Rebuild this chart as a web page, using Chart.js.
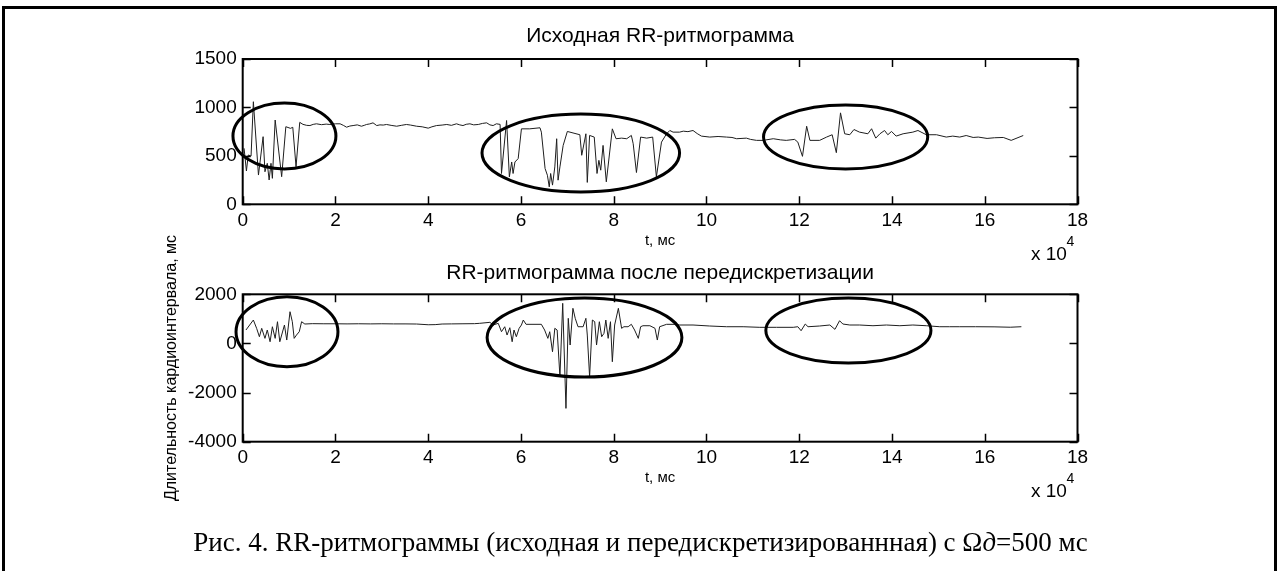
<!DOCTYPE html>
<html>
<head>
<meta charset="utf-8">
<script src="https://cdn.jsdelivr.net/npm/chart.js@4.4.1/dist/chart.umd.min.js"></script>
<style>
  html, body { margin: 0; padding: 0; background: #fff; }
  #page { position: relative; width: 1281px; height: 571px; overflow: hidden; background: #fff; }
  #frame { position: absolute; left: 2px; top: 6px; width: 1275px; height: 600px; border: 3px solid #000; box-sizing: border-box; }
  canvas { position: absolute; left: 0; }
  #rrTop { top: 0; }
  #rrBottom { top: 225px; }
  #caption { position: absolute; left: 0; width: 1281px; top: 529px; text-align: center; line-height: 27px;
             font-family: "Liberation Serif", "Times New Roman", serif; font-size: 27px; color: #000; white-space: nowrap; }
</style>
</head>
<body>
<div id="page">
  <div id="frame"></div>
  <canvas id="rrTop" width="1281" height="265"></canvas>
  <canvas id="rrBottom" width="1281" height="300"></canvas>
  <div id="caption">Рис. 4. RR-ритмограммы (исходная и передискретизированнная) с Ω<i>д</i>=500 мс</div>
</div>
<script>
// Source RR series: beat time (ms) and RR interval (ms)
const sourceTimes = [300,800,1200,1800,2300,3400,4400,4800,5300,5700,6100,6400,7000,8400,9300,10300,10800,11500,12300,13000,
  13800,14500,15200,15900,17000,18000,18800,20000,21000,21700,22400,23100,23800,24700,25600,26200,26700,27400,28100,28900,
  29600,30300,31000,32000,33200,34200,35300,36200,37500,38700,40000,40800,41800,43000,44000,45000,46100,46800,47500,48200,
  49000,49800,50800,51700,52600,53300,54000,54700,55500,55800,56900,57500,58000,58300,58700,59400,60100,61900,64100,64400,
  65200,65700,66100,66400,66800,67300,67700,68000,68400,69100,70000,72700,73100,74000,74300,74800,75800,76400,76800,77200,
  77700,78400,79700,80500,81700,82800,83800,84200,84900,85800,87100,88400,89200,90300,91400,92100,92800,94200,95000,96000,
  97100,98000,98900,100700,102500,104300,105500,106500,108600,109500,110800,112200,114400,116000,117200,119000,119700,120700,121600,122300,
  124400,125900,127100,128000,128900,129800,130900,131800,133000,134800,135600,136500,137400,138400,139100,139900,140900,142400,144500,145600,
  147400,149600,151700,153100,154600,156000,157500,158600,160500,162100,164000,165700,168300];
const sourceRR = [578,344,509,498,1059,302,698,336,423,251,423,268,870,285,801,784,795,388,846,825,
  815,813,825,831,822,828,824,831,831,815,796,808,813,820,806,815,824,830,841,813,
  820,818,824,815,806,815,824,818,806,800,786,800,813,818,824,815,831,820,813,826,
  831,820,824,835,841,820,813,831,825,318,865,283,437,318,437,472,779,779,790,745,
  369,300,180,318,198,386,677,249,386,608,752,718,506,728,226,711,694,318,454,352,
  608,232,779,677,683,677,711,625,328,694,683,694,283,642,728,762,745,745,755,750,
  762,730,704,694,700,694,690,677,683,670,660,660,677,665,660,670,642,495,806,660,
  660,694,718,533,944,728,718,772,745,728,780,683,728,762,718,752,704,728,745,762,
  718,718,694,704,694,710,690,694,680,687,690,660,710];

// Resampled RR series: sample time (ms) and value (ms)
const resampledTimes = [700,2300,3000,3600,4100,4800,5300,5900,6400,7000,7500,8000,9000,9500,10200,10700,11100,11600,12200,12700,
  13400,15000,17500,20000,22500,25000,27500,30000,32500,35000,37500,40000,41500,43000,45000,47500,50000,51100,53300,54000,
  55100,55800,56500,57000,57600,58100,58500,59000,59600,60100,60500,61100,64400,65100,65800,66200,66800,67300,67800,68400,
  69000,69700,70200,70600,71200,71700,72300,73400,74000,74300,74800,75400,75900,76300,76900,77400,77900,78300,78800,79300,
  79700,80200,81000,81700,82200,83100,83800,84500,85300,85800,86300,87800,88900,89400,89900,91400,93200,94200,97100,100700,
  104300,107900,111500,115100,118700,119700,120400,121300,121900,124400,126600,127700,128700,129400,130900,133000,135900,138800,141700,144500,
  147400,150300,152400,154600,158000,162000,165500,167900];
const resampledRR = [546,953,615,273,615,206,546,69,680,206,884,69,750,138,1291,884,206,342,477,884,
  790,805,800,800,795,800,795,800,795,795,790,760,765,790,795,800,805,819,859,750,
  819,477,680,342,640,69,546,273,615,750,953,778,778,546,206,477,-338,615,546,-1356,
  1633,-2644,1022,-65,1430,1022,680,680,1022,342,-1356,953,884,-65,884,273,411,953,206,884,
  -745,750,1430,615,680,680,778,546,206,680,721,721,615,138,680,778,778,750,750,709,
  680,680,656,656,656,680,517,790,680,709,750,574,925,790,750,750,721,750,721,750,
  721,680,680,680,680,675,660,680];

// Highlighted irregular segments: [t from, t to, value from, value to]
const sourceRegions = [[-2100, 20100, 365, 1045], [51600, 94200, 127, 931], [112300, 147700, 365, 1025]];
const resampledRegions = [[-1440, 20540, -949, 1903], [52700, 94700, -1369, 1849], [112800, 148400, -799, 1849]];

const sans = '"Liberation Sans", Arial, Helvetica, sans-serif';

// Box, inward ticks, highlight ellipses and the x-axis exponent
const axesBox = {
  id: 'axesBox',
  afterDatasetsDraw(chart, args, opts) {
    const { ctx, chartArea: a, scales: { x, y } } = chart;
    ctx.save();
    ctx.strokeStyle = '#000';
    ctx.lineWidth = 3;
    for (const r of opts.regions) {
      const x0 = x.getPixelForValue(r[0]), x1 = x.getPixelForValue(r[1]);
      const y0 = y.getPixelForValue(r[2]), y1 = y.getPixelForValue(r[3]);
      ctx.beginPath();
      ctx.ellipse((x0 + x1) / 2, (y0 + y1) / 2, Math.abs(x1 - x0) / 2, Math.abs(y1 - y0) / 2, 0, 0, Math.PI * 2);
      ctx.stroke();
    }
    ctx.lineWidth = 2;
    ctx.strokeRect(a.left, a.top, a.right - a.left, a.bottom - a.top);
    const tl = 8;
    ctx.lineWidth = 1.5;
    ctx.beginPath();
    for (const t of x.ticks) {
      const px = Math.round(x.getPixelForValue(t.value)) + 0.5;
      ctx.moveTo(px, a.bottom); ctx.lineTo(px, a.bottom - tl);
      ctx.moveTo(px, a.top); ctx.lineTo(px, a.top + tl);
    }
    for (const t of y.ticks) {
      const py = Math.round(y.getPixelForValue(t.value)) + 0.5;
      ctx.moveTo(a.left, py); ctx.lineTo(a.left + tl, py);
      ctx.moveTo(a.right, py); ctx.lineTo(a.right - tl, py);
    }
    ctx.stroke();
    ctx.fillStyle = '#000';
    ctx.textAlign = 'left';
    ctx.textBaseline = 'alphabetic';
    ctx.font = '19px ' + sans;
    ctx.fillText('x 10', a.right - 46.5, a.bottom + opts.expOffset);
    ctx.font = '14px ' + sans;
    ctx.fillText('4', a.right - 11, a.bottom + opts.expOffset - 14);
    ctx.restore();
  }
};

function rrChart(id, c) {
  return new Chart(document.getElementById(id), {
    type: 'line',
    data: {
      datasets: [{
        data: c.times.map((t, i) => ({ x: t, y: c.values[i] })),
        borderColor: '#1e1e1e', borderWidth: 1, pointRadius: 0, tension: 0, fill: false
      }]
    },
    options: {
      responsive: false, animation: false, events: [],
      layout: { padding: { left: 0, right: 203.5, top: 0, bottom: c.padBottom } },
      plugins: {
        legend: { display: false }, tooltip: { enabled: false },
        title: {
          display: true, text: c.title, fullSize: false, color: '#000',
          font: { family: sans, size: 21, weight: 'normal', lineHeight: 1 },
          padding: { top: c.titleTop, bottom: c.titleBottom }
        },
        axesBox: { regions: c.regions, expOffset: 55.3 }
      },
      scales: {
        x: {
          type: 'linear', min: 0, max: 180000,
          grid: { display: false, drawTicks: false }, border: { display: false },
          ticks: { stepSize: 20000, autoSkip: false, maxRotation: 0, padding: 6.5, color: '#000',
                   font: { family: sans, size: 19, lineHeight: 1 }, callback: v => String(v / 10000) },
          title: { display: true, text: 't, мс', color: '#000',
                   font: { family: sans, size: 15, lineHeight: 1 }, padding: { top: 0, bottom: 6.3 } },
          afterFit(s) { s.height = 50; }
        },
        y: {
          type: 'linear', min: c.yMin, max: c.yMax,
          grid: { display: false, drawTicks: false }, border: { display: false },
          ticks: { stepSize: c.yStep, padding: 6, color: '#000', font: { family: sans, size: 19, lineHeight: 1 },
                   callback: v => String(v) },
          title: { display: !!c.yTitle, text: c.yTitle || '', color: '#000',
                   font: { family: sans, size: 16, lineHeight: 1 }, padding: { top: 164, bottom: 0 } },
          afterFit(s) { s.width = 242.7; }
        }
      }
    },
    plugins: [axesBox]
  });
}

rrChart('rrTop', {
  times: sourceTimes, values: sourceRR, regions: sourceRegions,
  title: 'Исходная RR-ритмограмма', titleTop: 25.4, titleBottom: 12.6,
  yMin: 0, yMax: 1500, yStep: 500, padBottom: 10.7
});

rrChart('rrBottom', {
  times: resampledTimes, values: resampledRR, regions: resampledRegions,
  title: 'RR-ритмограмма после передискретизации', titleTop: 38.2, titleBottom: 10.1,
  yMin: -4000, yMax: 2000, yStep: 2000, padBottom: 33.3,
  yTitle: 'Длительность кардиоинтервала, мс'
});
</script>
</body>
</html>
